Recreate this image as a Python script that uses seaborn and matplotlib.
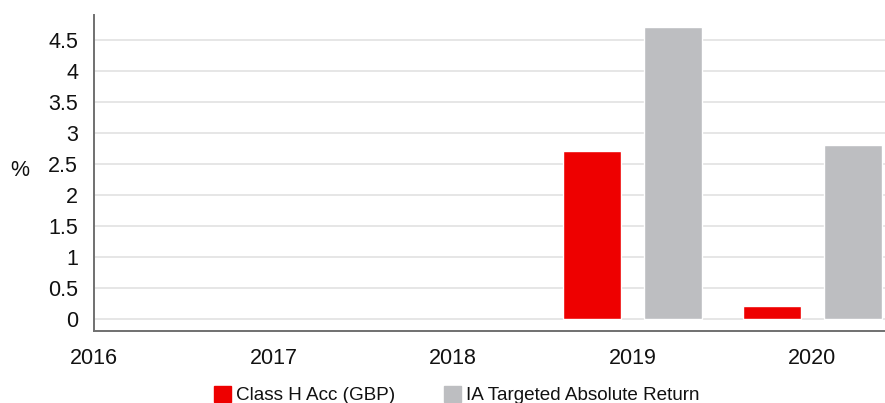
import matplotlib.pyplot as plt
import seaborn as sns
import pandas as pd
import numpy as np

years = ["2016", "2017", "2018", "2019", "2020"]
fund_name = "Class H Acc (GBP)"
sector_name = "IA Targeted Absolute Return"
fund_returns = [np.nan, np.nan, np.nan, 2.7, 0.2]
sector_returns = [np.nan, np.nan, np.nan, 4.7, 2.8]
y_ticks = [0, 0.5, 1, 1.5, 2, 2.5, 3, 3.5, 4, 4.5]
y_tick_labels = ["0", "0.5", "1", "1.5", "2", "2.5", "3", "3.5", "4", "4.5"]

df = pd.DataFrame({
    "year": years * 2,
    "value": fund_returns + sector_returns,
    "series": [fund_name] * len(years) + [sector_name] * len(years),
})

sns.set_theme(style="white")
plt.rcParams["font.family"] = ["Liberation Sans", "DejaVu Sans"]

fig = plt.figure(figsize=(8.85, 4.03), dpi=100)
ax = fig.add_axes([94 / 885, 72 / 403, 791 / 885, 316 / 403])

palette = {fund_name: "#ee0000", sector_name: "#bdbec1"}
sns.barplot(data=df, x="year", y="value", hue="series", order=years,
            hue_order=[fund_name, sector_name], palette=palette,
            width=0.9, gap=0.28, saturation=1, legend=False, ax=ax, zorder=3)

ax.set_xlim(0, 4.405)
ax.set_ylim(-0.2, 4.9)
ax.set_yticks(y_ticks)
ax.set_yticklabels(y_tick_labels)
ax.yaxis.grid(True, color="#e2e2e2", linewidth=1.2, zorder=0)
ax.set_axisbelow(True)

for side in ["top", "right"]:
    ax.spines[side].set_visible(False)
for side in ["left", "bottom"]:
    ax.spines[side].set_color("#707070")
    ax.spines[side].set_linewidth(1.4)

ax.tick_params(axis="x", direction="in", length=5, width=1, color="#505050",
               pad=12, labelsize=15.5, labelcolor="#111111")
ax.tick_params(axis="y", length=0, pad=11.5, labelsize=15.5, labelcolor="#111111")

ax.set_xlabel("")
ax.set_ylabel("%", rotation=0, fontsize=15.5, color="#111111", va="center")
ax.yaxis.set_label_coords(-74 / 791, (331 - 171) / 316)

handles = [plt.Rectangle((0, 0), 1, 1, color=palette[fund_name]),
           plt.Rectangle((0, 0), 1, 1, color=palette[sector_name])]
fig.legend(handles, [fund_name, sector_name], loc="center",
           bbox_to_anchor=(0.516, 8 / 403), ncol=2, frameon=False,
           fontsize=13.6, handlelength=0.9, handleheight=0.9,
           handletextpad=0.25, columnspacing=2.6, labelcolor="#111111")

fig.savefig("out.png", dpi=100)
